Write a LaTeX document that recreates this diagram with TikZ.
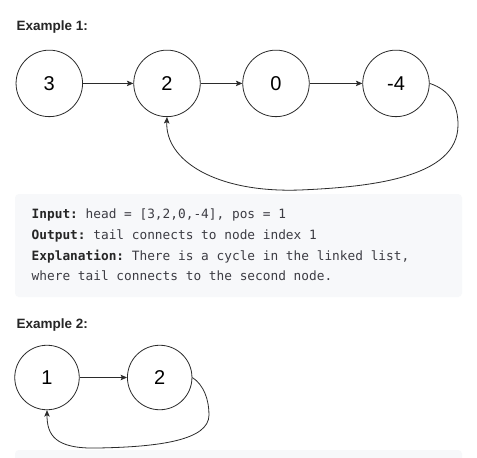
\documentclass[tikz,border=0pt]{standalone}
\usepackage{fontspec}
\setmainfont{Liberation Sans}
\setmonofont{DejaVu Sans Mono}
\usetikzlibrary{arrows.meta}
\definecolor{ink}{HTML}{262626}
\definecolor{codetxt}{HTML}{3C3C43}
\definecolor{codebg}{HTML}{F7F8FA}
\definecolor{edge}{HTML}{2B2B2B}
\begin{document}
\begin{tikzpicture}[x=1pt,y=-1pt,
  listnode/.style={circle,draw=edge,line width=0.8pt,minimum size=66.5pt,inner sep=0pt,font=\fontsize{20}{24}\selectfont,text=black},
  smallnode/.style={listnode,minimum size=64.5pt},
  link/.style={draw=edge,line width=0.8pt,-{Stealth[length=6.5pt,width=5.5pt,inset=1.5pt]}},
  heading/.style={anchor=base west,inner sep=0pt,font=\bfseries\fontsize{13.5}{16}\selectfont,text=ink},
  codeline/.style={anchor=base west,inner sep=0pt,font=\ttfamily\fontsize{12.8}{15}\selectfont,text=codetxt}]
\useasboundingbox (0,0) rectangle (477,458);
\fill[white] (0,0) rectangle (477,458);

% Example 1
\node[heading] (h1) at (16.5,30) {Example 1:};
\node[listnode] (a3) at (49.3,83.4) {3};
\node[listnode] (a2) at (167,83.4) {2};
\node[listnode] (a0) at (276,83.4) {0};
\node[listnode] (a4) at (396,83.4) {-4};
\draw[link] (a3) -- (a2);
\draw[link] (a2) -- (a0);
\draw[link] (a0) -- (a4);
\draw[link] (a4.east) .. controls (450,90) and (458,105) .. (458,125)
  .. controls (458,178) and (370,187) .. (300,190)
  .. controls (215,193) and (165,160) .. (a2.south);

% code block
\fill[codebg,rounded corners=4pt] (15,194) rectangle (462,297);
\node[codeline] (l1) at (31.5,218) {\textcolor{ink}{\bfseries Input:} head = [3,2,0,-4], pos = 1};
\node[codeline] (l2) at (31.5,239) {\textcolor{ink}{\bfseries Output:} tail connects to node index 1};
\node[codeline] (l3) at (31.5,260) {\textcolor{ink}{\bfseries Explanation:} There is a cycle in the linked list,};
\node[codeline] (l4) at (31.5,280.5) {where tail connects to the second node.};

% Example 2
\node[heading] (h2) at (16.5,328.3) {Example 2:};
\node[smallnode] (b1) at (47,377.5) {1};
\node[smallnode] (b2) at (159.7,377.5) {2};
\draw[link] (b1) -- (b2);
\draw[link] (b2.east) .. controls (204,385) and (209,400) .. (209,415)
  .. controls (209,440) and (160,447) .. (97,448)
  .. controls (55,449) and (47,435) .. (b1.south);

\fill[codebg] (15,458) [rounded corners=4pt] -- (15,450) -- (462,450) [sharp corners] -- (462,458) -- cycle;
\end{tikzpicture}
\end{document}
